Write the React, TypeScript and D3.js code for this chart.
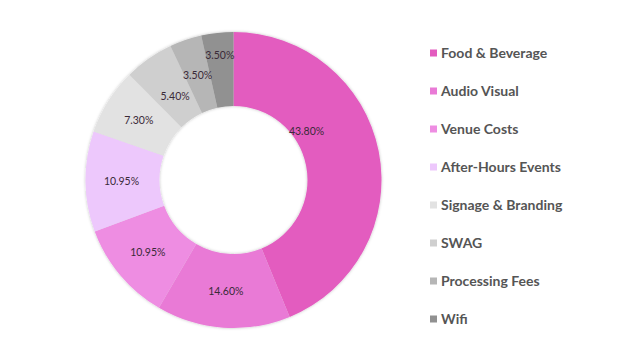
import React from "react";
import * as d3 from "d3";

const categories = [
  "Food & Beverage",
  "Audio Visual",
  "Venue Costs",
  "After-Hours Events",
  "Signage & Branding",
  "SWAG",
  "Processing Fees",
  "Wifi",
];
const values = [43.8, 14.6, 10.95, 10.95, 7.3, 5.4, 3.5, 3.5];
const valueLabels = ["43.80%", "14.60%", "10.95%", "10.95%", "7.30%", "5.40%", "3.50%", "3.50%"];
const colors = ["#e35cbf", "#e97ad6", "#ee8de2", "#edc8fc", "#e2e2e2", "#cfcfcf", "#b6b6b6", "#919191"];

const W = 623;
const H = 361;
const cx = 233.5;
const cy = 180;
const R = 148;
const r = 74;
// label radius per slice (render config)
const labelR = [88, 112, 112, 112, 112, 102, 111, 125];

export default function App() {
  const pie = d3.pie<number>().sort(null).value((d) => d)(values);
  const arc = d3.arc<d3.PieArcDatum<number>>().innerRadius(r).outerRadius(R);
  return (
    <svg width={W} height={H} style={{ position: "absolute", left: 0, top: 0 }}>
      <defs>
        <filter id="sh" x="-20%" y="-20%" width="140%" height="140%">
          <feDropShadow dx="0" dy="0" stdDeviation="1.5" floodColor="#000" floodOpacity="0.25" />
        </filter>
      </defs>
      <g transform={`translate(${cx},${cy})`}>
        <g filter="url(#sh)">
          {pie.map((p, i) => (
            <path key={i} d={arc(p) || ""} fill={colors[i]} />
          ))}
        </g>
        {pie.map((p, i) => {
          const a = i === 0 ? p.startAngle + 0.98 : (p.startAngle + p.endAngle) / 2;
          const x = labelR[i] * Math.sin(a);
          const y = -labelR[i] * Math.cos(a);
          return (
            <text
              key={i}
              x={x}
              y={y}
              dy="0.35em"
              textAnchor="middle"
              fontFamily="Lato"
              fontSize={10.5}
              fill="#3a2a38"
            >
              {valueLabels[i]}
            </text>
          );
        })}
      </g>
      <g>
        {categories.map((c, i) => (
          <g key={c} transform={`translate(430,${53 + i * 38})`}>
            <rect x={0} y={-3.5} width={7} height={7} fill={colors[i]} />
            <text x={11} y={0} dy="0.36em" fontFamily="Lato" fontWeight="bold" fontSize={14} fill="#555">
              {c}
            </text>
          </g>
        ))}
      </g>
    </svg>
  );
}
